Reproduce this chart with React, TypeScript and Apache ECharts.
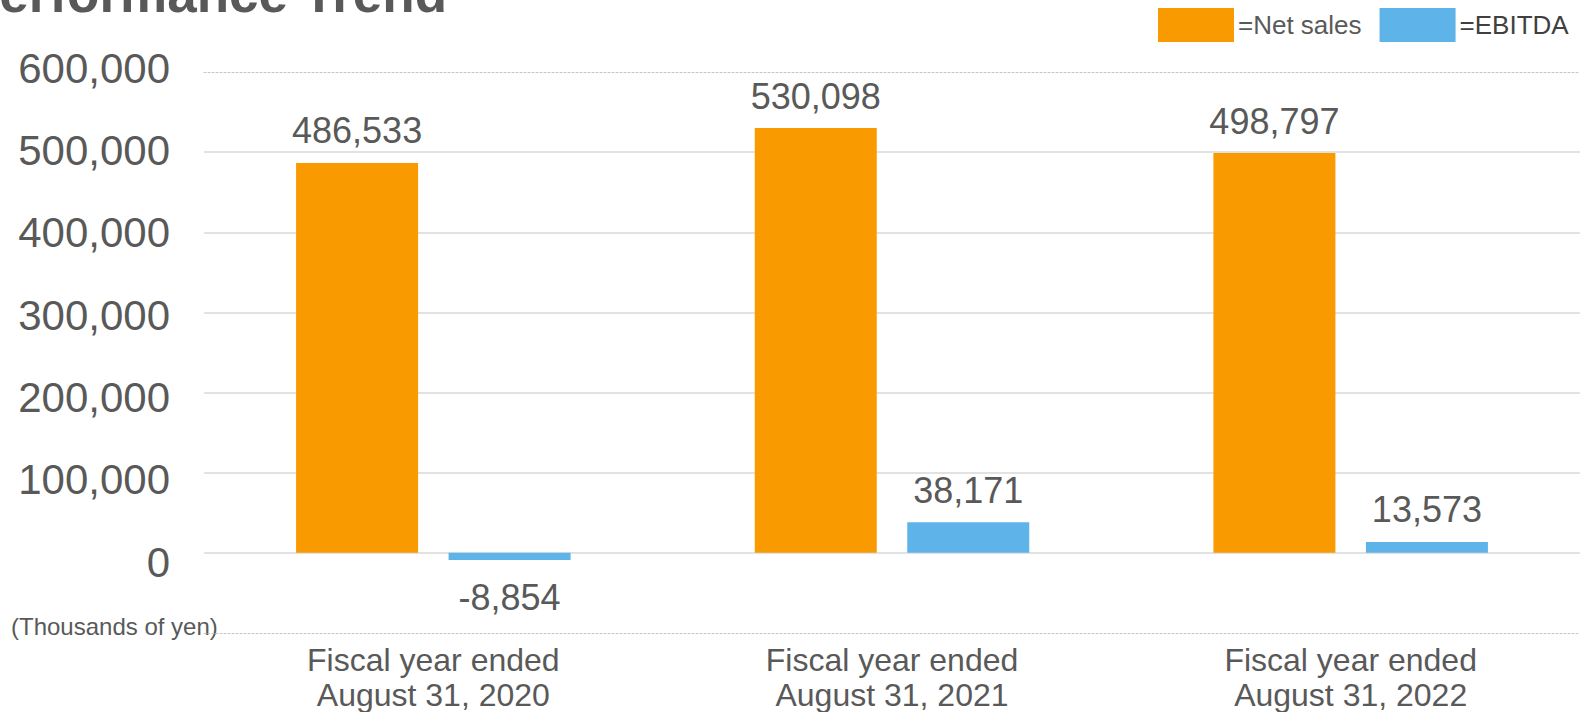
import React, { useEffect, useRef } from "react";
import * as echarts from "echarts";

const categories = [
  "Fiscal year ended\nAugust 31, 2020",
  "Fiscal year ended\nAugust 31, 2021",
  "Fiscal year ended\nAugust 31, 2022",
];
const netSales = [486533, 530098, 498797];
const ebitda = [-8854, 38171, 13573];
const seriesNames = ["Net sales", "EBITDA"];
const titleText = "Performance Trend";
const unitText = "(Thousands of yen)";

const FONT = 'Arial, "Liberation Sans", Helvetica, sans-serif';
const TEXT = "#595959";
const fmt = (v: number) => v.toLocaleString("en-US");

export default function App() {
  const ref = useRef<HTMLDivElement>(null);
  useEffect(() => {
    if (!ref.current) return;
    const chart = echarts.init(ref.current, undefined, { renderer: "svg" });
    const dotted = { color: "#c6c6c6", type: [2, 2] as any, width: 1 };
    const barLabel = {
      show: true,
      position: "top" as const,
      distance: 14,
      fontSize: 36,
      fontFamily: FONT,
      color: TEXT,
      formatter: (p: any) => fmt(p.value),
    };
    chart.setOption({
      animation: false,
      textStyle: { fontFamily: FONT },
      grid: [
        { left: 204, right: 0, top: 72, height: 561 },
        { left: 204, right: 0, top: 68, height: 494 },
      ],
      legend: {
        left: 1153,
        top: 3,
        itemWidth: 76,
        itemHeight: 34,
        itemGap: 18,
        icon: "rect",
        formatter: "={name}",
        textStyle: { fontSize: 26, fontFamily: FONT, color: TEXT, padding: [0, 0, 0, -1] },
        data: [
          { name: seriesNames[0], textStyle: { color: TEXT } },
          { name: seriesNames[1], textStyle: { color: "#404040" } },
        ],
      },
      xAxis: [
        {
          type: "category",
          gridIndex: 0,
          data: categories,
          position: "bottom",
          axisLine: { show: true, onZero: false, lineStyle: dotted },
          axisTick: { show: false },
          axisLabel: {
            fontSize: 32,
            lineHeight: 35,
            color: TEXT,
            fontFamily: FONT,
            margin: 9,
            interval: 0,
          },
        },
        {
          type: "category",
          gridIndex: 0,
          data: categories,
          position: "top",
          axisLine: { show: true, onZero: false, lineStyle: dotted },
          axisTick: { show: false },
          axisLabel: { show: false },
        },
        {
          type: "category",
          gridIndex: 1,
          data: categories,
          show: false,
        },
      ],
      yAxis: [
        {
          type: "value",
          gridIndex: 0,
          min: -100000,
          max: 600000,
          interval: 100000,
          axisLabel: { show: false },
          axisLine: { show: false },
          axisTick: { show: false },
          splitLine: {
            show: true,
            lineStyle: {
              color: [
                "rgba(0,0,0,0)",
                "#d9d9d9",
                "#d9d9d9",
                "#d9d9d9",
                "#d9d9d9",
                "#d9d9d9",
                "#d9d9d9",
                "rgba(0,0,0,0)",
              ],
              width: 1.5,
            },
          },
        },
        {
          type: "value",
          gridIndex: 1,
          min: 0,
          max: 600000,
          interval: 100000,
          axisLine: { show: false },
          axisTick: { show: false },
          splitLine: { show: false },
          axisLabel: {
            fontSize: 42,
            color: TEXT,
            fontFamily: FONT,
            margin: 34,
            formatter: (v: number) => fmt(v),
          },
        },
      ],
      series: [
        {
          name: seriesNames[0],
          type: "bar",
          xAxisIndex: 0,
          yAxisIndex: 0,
          data: netSales,
          barWidth: 122,
          barGap: "25%",
          itemStyle: { color: "#F99A00" },
          label: barLabel,
        },
        {
          name: seriesNames[1],
          type: "bar",
          xAxisIndex: 0,
          yAxisIndex: 0,
          data: ebitda.map((v) => ({
            value: v,
            label: v < 0 ? { position: "bottom", distance: 20 } : undefined,
          })),
          barWidth: 122,
          barGap: "25%",
          itemStyle: { color: "#5EB3E8" },
          label: barLabel,
        },
      ],
      graphic: [
        {
          type: "text",
          right: 1580 - 447,
          top: -33,
          style: {
            text: titleText,
            font: `bold 53px ${FONT}`,
            fill: TEXT,
          },
        },
        {
          type: "text",
          left: 11,
          top: 614,
          style: {
            text: unitText,
            font: `24px ${FONT}`,
            fill: TEXT,
          },
        },
      ],
    });
    return () => chart.dispose();
  }, []);
  return (
    <div
      ref={ref}
      style={{ position: "fixed", left: 0, top: 0, width: 1580, height: 712, background: "#fff" }}
    />
  );
}
